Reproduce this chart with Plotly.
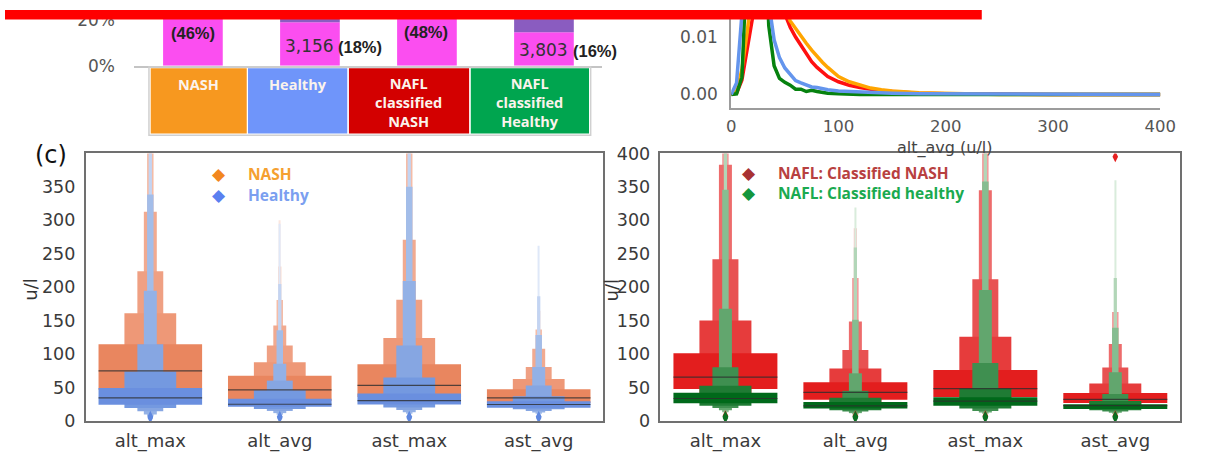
import plotly.graph_objects as go

W, H = 1212, 455
def px(x): return x / W
def py(y): return 1 - y / H

# ---------------- data: top-left stacked bars ----------------
bar_groups = ["NASH", "Healthy", "NAFL classified NASH", "NAFL classified Healthy"]
group_box_text = ["NASH", "Healthy", "NAFL<br>classified<br>NASH", "NAFL<br>classified<br>Healthy"]
group_box_colors = ["#f7981f", "#6f95fa", "#d30000", "#00a54f"]
pct_magenta = [46.0, 18.8, 48.0, 14.5]
pct_purple = [20.0, 6.0, 20.0, 10.0]
bar_counts = ["", "3,156", "", "3,803"]
bar_pcts = ["(46%)", "(18%)", "(48%)", "(16%)"]

# ---------------- data: top-right density of alt_avg ----------------
alt_grid = [0, 5, 10, 15, 20, 25, 30, 35, 40, 45, 50, 55, 60, 65, 70, 75, 80, 85, 90,
            100, 110, 120, 130, 140, 150, 175, 200, 250, 300, 350, 400]
dens_nash = [0, .0005, .0043, .0110, .0190, .0250, .0260, .0240, .0210, .0180, .0150, .0128,
             .0115, .0100, .0089, .0077, .0066, .0056, .0047, .0031, .0022, .0016, .0011,
             .0008, .0006, .0003, .0002, 0, 0, 0, 0]
dens_healthy = [0, .0020, .0140, .0300, .0380, .0380, .0300, .0160, .0095, .0064, .0046, .0034,
                .0024, .0020, .0016, .0013, .0012, .0010, .0008, .0006, .0005, .0004, .0003,
                .0002, .0002, .0001, .0001, 0, 0, 0, 0]
dens_nafl_nash = [0, .0002, .0025, .0080, .0135, .0220, .0270, .0250, .0210, .0170, .0140, .0117,
                  .0100, .0086, .0071, .0057, .0047, .0038, .0031, .0022, .0016, .0012, .0009,
                  .0006, .0005, .0002, .0001, 0, 0, 0, 0]
dens_nafl_healthy = [0, .0001, .0030, .0250, .0420, .0440, .0360, .0120, .0050, .0028, .0021, .0016,
                     .0009, .0009, .0005, .0007, .0005, .0003, .0002, .0001, 0, 0, 0,
                     0, 0, 0, 0, 0, 0, 0, 0]

# ---------------- data: boxen (letter-value) plots ----------------
box_cats = ["alt_max", "alt_avg", "ast_max", "ast_avg"]

nash_upper = [[114.7, 161, 224, 313, 480, None, None],
              [67.6, 88, 112.9, 142.9, 181, 231, 300],
              [84.8, 124, 181.5, 271, 480, None, None],
              [47.6, 62.9, 81, 108, 137, 165, None]]
nash_lower = [[47, 33, 25, 19, 14, None, None],
              [30, 24, 19, 15, 12, 10, 8],
              [36, 28, 23, 19, 16, None, None],
              [27, 23, 20, 17, 14, 12, None]]
nash_median = [75, 46.7, 53.5, 34.8]

healthy_upper = [[49.5, 74.3, 114.7, 194.8, 338.6, 480, None],
                 [33.3, 46.2, 60.5, 85.7, 135.7, 204.8, 295],
                 [41.4, 65.2, 112.9, 209.5, 350, 480, None],
                 [29.5, 37.1, 53.3, 81, 128.6, 186.7, 262]]
healthy_lower = [[24.3, 19.5, 14.8, 10, 7.6, 6, None],
                 [21.4, 18, 15.2, 11.9, 9.5, 8, 7],
                 [24.8, 20.5, 16.7, 13.3, 11, 9, None],
                 [20, 17.6, 15.2, 12.9, 11, 9.5, 8]]
healthy_median = [34.8, 25.2, 30.5, 24.8]
healthy_outliers = [[5, 7], [5, 7], [5, 7], [5, 7]]

nafl_nash_upper = [[101.4, 150.5, 242, 383, 480, None, None],
                   [58.1, 78.6, 106.2, 149, 214, 288, None],
                   [76.2, 126.2, 211.9, 345, 480, None, None],
                   [41.9, 56.2, 80, 115.2, 162.9, None, None]]
nafl_nash_lower = [[48, 35, 27, 21, 16, None, None],
                   [31.9, 24, 19, 15, 12, 10, None],
                   [36, 29, 24, 19, 15, None, None],
                   [27, 22, 19, 16, 13, None, None]]
nafl_nash_median = [65.7, 42.9, 48.6, 32.4]
nafl_nash_outliers = [[8], [8], [8], [8, 395]]

nafl_healthy_upper = [[42.4, 52.9, 80.5, 168, 345.7, 480, None],
                      [28.6, 34.8, 45.2, 71.4, 151.4, 259.5, 319],
                      [35.7, 49, 86.7, 196, 358, 480, None],
                      [25.2, 30, 40.5, 72.9, 139.5, 214, 360]]
nafl_healthy_lower = [[26.7, 22.9, 19.5, 16.2, 13.3, 11, None],
                      [19, 16.2, 14.3, 11.9, 10, 8.5, 7.5],
                      [22.9, 19, 15.2, 13, 11, 9.5, None],
                      [18, 16.2, 14.3, 12.5, 11, 9.5, 8]]
nafl_healthy_median = [33.8, 22.9, 30, 23]
nafl_healthy_outliers = [[5, 7], [5, 7], [5, 7], [5, 7]]

orange_levels = ['#e9865f', '#ee9877', '#efa083', '#f1aa90', '#f4bca7', '#f8d3c6', '#fbe6de']
blue_levels = ['#6a8fdf', '#7499e0', '#86a6e2', '#93b1e6', '#a3bde9', '#c3d4f2', '#dfe8f8']
red_levels = ['#e31e1e', '#e63c3c', '#e85252', '#ed6c6c', '#f29c9c', '#f7c6c6', '#fbe2e2']
green_levels = ['#00691a', '#1f7b34', '#3f8f50', '#62a66e', '#86bd91', '#b2d6b8', '#d9ecdc']

TICK = "DejaVu Sans"
fig = go.Figure()

# ---- top-left bars
fig.add_trace(go.Bar(x=list(range(4)), y=pct_magenta, base=[0] * 4, width=0.51,
                     marker=dict(color="#fb4ef0", line=dict(width=0)),
                     xaxis="x", yaxis="y", showlegend=False, hoverinfo="skip"))
fig.add_trace(go.Bar(x=list(range(4)), y=pct_purple, base=pct_magenta, width=0.51,
                     marker=dict(color="#8a5cc0", line=dict(width=0)),
                     xaxis="x", yaxis="y", showlegend=False, hoverinfo="skip"))

# ---- top-right density lines
for vals, col in [(dens_nafl_nash, "#ff1010"), (dens_nash, "#ffa500"),
                  (dens_nafl_healthy, "#07820f"), (dens_healthy, "#6495ed")]:
    fig.add_trace(go.Scatter(x=alt_grid, y=vals, mode="lines",
                             line=dict(color=col, width=3.5),
                             xaxis="x2", yaxis="y2", showlegend=False, hoverinfo="skip"))

# ---- boxen helper
def add_boxen(upper, lower, median, colors, xa, ya):
    nlev = len(colors)
    for k in reversed(range(nlev)):
        xs, bases, hs = [], [], []
        for i in range(len(upper)):
            u, l = upper[i][k], lower[i][k]
            if u is None or l is None:
                continue
            xs.append(i); bases.append(l); hs.append(u - l)
        if xs:
            fig.add_trace(go.Bar(x=xs, y=hs, base=bases, width=0.8 * 0.5 ** k,
                                 marker=dict(color=colors[k], line=dict(width=0)),
                                 xaxis=xa, yaxis=ya, showlegend=False, hoverinfo="skip"))
    mx, my = [], []
    for i, m in enumerate(median):
        mx += [i - 0.4, i + 0.4, None]; my += [m, m, None]
    fig.add_trace(go.Scatter(x=mx, y=my, mode="lines",
                             line=dict(color="rgba(45,45,45,0.8)", width=1.2),
                             xaxis=xa, yaxis=ya, showlegend=False, hoverinfo="skip"))

def add_outliers(outs, color, xa, ya):
    xs, ys = [], []
    for i, vals in enumerate(outs):
        for v in vals:
            xs.append(i); ys.append(v)
    fig.add_trace(go.Scatter(x=xs, y=ys, mode="markers",
                             marker=dict(symbol="diamond-tall", size=8, color=color),
                             xaxis=xa, yaxis=ya, showlegend=False, hoverinfo="skip",
                             cliponaxis=True))

add_boxen(nash_upper, nash_lower, nash_median, orange_levels, "x3", "y3")
add_boxen(healthy_upper, healthy_lower, healthy_median, blue_levels, "x3", "y3")
add_outliers(healthy_outliers, "#5f88e0", "x3", "y3")

add_outliers(nafl_nash_outliers, "#e52020", "x4", "y4")
add_boxen(nafl_nash_upper, nafl_nash_lower, nafl_nash_median, red_levels, "x4", "y4")
add_boxen(nafl_healthy_upper, nafl_healthy_lower, nafl_healthy_median, green_levels, "x4", "y4")
add_outliers(nafl_healthy_outliers, "#0a6e20", "x4", "y4")

hidden_tick = "rgba(0,0,0,0)"
box_y = [py(430), py(150)]

fig.update_layout(
    width=W, height=H, margin=dict(l=0, r=0, t=0, b=0),
    paper_bgcolor="white", plot_bgcolor="white", barmode="overlay",
    xaxis=dict(domain=[px(131.7), px(608)], range=[-0.5, 3.5], showticklabels=False,
               showgrid=False, zeroline=False, showline=True, linecolor="#c4c4c4",
               linewidth=1.5, ticks=""),
    yaxis=dict(domain=[py(58.3), 1], range=[0, 24.14], tickvals=[0, 20],
               ticktext=["0%", "20%"], ticks="outside", ticklen=15, tickcolor=hidden_tick,
               tickfont=dict(family=TICK, size=17, color="#555"),
               showgrid=False, zeroline=False, showline=False),
    xaxis2=dict(domain=[px(739), px(1175.7)], range=[0, 400], tickvals=[0, 100, 200, 300, 400],
                ticks="outside", ticklen=2, tickcolor=hidden_tick,
                tickfont=dict(family=TICK, size=16.5, color="#555"),
                showgrid=False, zeroline=False, showline=True, linecolor="#9c9c9c",
                linewidth=2, anchor="y2"),
    yaxis2=dict(domain=[py(102.7), 1], range=[-0.0024, 0.0147], tickvals=[0, 0.01],
                ticktext=["0.00", "0.01"], ticks="outside", ticklen=8, tickcolor=hidden_tick,
                tickfont=dict(family=TICK, size=17, color="#555"),
                showgrid=False, zeroline=False, showline=True, linecolor="#9c9c9c",
                linewidth=2, anchor="x2"),
    xaxis3=dict(domain=[px(82), px(609)], range=[-0.5, 3.5], tickvals=[0, 1, 2, 3],
                ticktext=box_cats, ticks="outside", ticklen=3, tickcolor=hidden_tick,
                tickfont=dict(family=TICK, size=18, color="#3a3a3a"),
                showgrid=False, zeroline=False, showline=True, mirror=True,
                linecolor="#707070", linewidth=1.5, anchor="y3"),
    yaxis3=dict(domain=box_y, range=[0, 400], tickvals=[0, 50, 100, 150, 200, 250, 300, 350],
                ticks="outside", ticklen=5, tickcolor=hidden_tick,
                tickfont=dict(family=TICK, size=17.5, color="#3a3a3a"),
                showgrid=False, zeroline=False, showline=True, mirror=True,
                linecolor="#707070", linewidth=1.5, anchor="x3"),
    xaxis4=dict(domain=[px(667), px(1196)], range=[-0.5, 3.5], tickvals=[0, 1, 2, 3],
                ticktext=box_cats, ticks="outside", ticklen=3, tickcolor=hidden_tick,
                tickfont=dict(family=TICK, size=18, color="#3a3a3a"),
                showgrid=False, zeroline=False, showline=True, mirror=True,
                linecolor="#707070", linewidth=1.5, anchor="y4"),
    yaxis4=dict(domain=box_y, range=[0, 400],
                tickvals=[0, 50, 100, 150, 200, 250, 300, 350, 400],
                ticks="outside", ticklen=5, tickcolor=hidden_tick,
                tickfont=dict(family=TICK, size=17.5, color="#3a3a3a"),
                showgrid=False, zeroline=False, showline=True, mirror=True,
                linecolor="#707070", linewidth=1.5, anchor="x4"),
)

shapes = []
# category boxes under the bar chart
box_edges = [(148.3, 246), (247.3, 348.3), (350, 472.3), (474, 594.3)]
shapes.append(dict(type="rect", xref="paper", yref="paper", x0=px(146.5), x1=px(596),
                    y0=py(131), y1=py(59.5), line=dict(color="#d0d0d0", width=1.5),
                    fillcolor="rgba(0,0,0,0)"))
for (x0, x1), col in zip(box_edges, group_box_colors):
    shapes.append(dict(type="rect", xref="paper", yref="paper", x0=px(x0), x1=px(x1),
                        y0=py(129.3), y1=py(61), line=dict(width=0), fillcolor=col))
# red banner at the top
shapes.append(dict(type="rect", xref="paper", yref="paper", x0=0, x1=px(994),
                    y0=py(10), y1=1, line=dict(width=0), fillcolor="#ff0000", layer="above"))
fig.update_layout(shapes=shapes)

ann = []
BOXFONT = "Open Sans"
text_centers = [(197, 78), (298, 78), (411, 97), (534, 97)]
for (cx, cy), t in zip(text_centers, group_box_text):
    ann.append(dict(x=px(cx), y=py(cy), xref="paper", yref="paper", text=t, showarrow=False,
                    xanchor="center", yanchor="middle",
                    font=dict(family=BOXFONT, size=14.5, color="#fbf3ec", weight="bold")))

# bar labels
pct_pos = [(191, 24), (361, 39), (428, 23), (600, 43)]
cnt_pos = [None, (310, 38), None, (548, 42)]
for i in range(4):
    ann.append(dict(x=px(pct_pos[i][0]), y=py(pct_pos[i][1]), xref="paper", yref="paper",
                    text="<b>" + bar_pcts[i] + "</b>", showarrow=False,
                    xanchor="center", yanchor="middle",
                    font=dict(family="Liberation Sans", size=16.5, color="#222")))
    if cnt_pos[i] is not None:
        ann.append(dict(x=px(cnt_pos[i][0]), y=py(cnt_pos[i][1]), xref="paper", yref="paper",
                        text=bar_counts[i], showarrow=False, xanchor="center", yanchor="middle",
                        font=dict(family=TICK, size=17, color="#333")))

# density x-axis title
ann.append(dict(x=px(957), y=py(144), xref="paper", yref="paper", text="alt_avg (u/l)",
                showarrow=False, xanchor="center", yanchor="middle", borderpad=0,
                font=dict(family=TICK, size=16, color="#444")))

# panel label and y titles
ann.append(dict(x=px(47), y=py(152), xref="paper", yref="paper", text="(c)", showarrow=False,
                xanchor="center", yanchor="middle", font=dict(family=TICK, size=24, color="#111")))
ann.append(dict(x=px(26), y=py(293), xref="paper", yref="paper", text="u/l", showarrow=False,
                textangle=-90, xanchor="center", yanchor="middle",
                font=dict(family=TICK, size=18, color="#333")))
ann.append(dict(x=px(617), y=py(293), xref="paper", yref="paper", text="u/l", showarrow=False,
                textangle=-90, xanchor="center", yanchor="middle",
                font=dict(family=TICK, size=18, color="#333")))

# legends
legend_items = [
    (218, 172, 245, "NASH", "#f2871e", "#f5a030"),
    (218, 193, 245, "Healthy", "#5a80f0", "#7b9ff0"),
    (757, 171, 785, "NAFL: Classified NASH", "#a83232", "#b84040"),
    (757, 191, 785, "NAFL: Classified healthy", "#14963c", "#1aaa50"),
]
for dx, dy, tx, label, dcol, tcol in legend_items:
    ann.append(dict(x=px(dx), y=py(dy), xref="paper", yref="paper", text="◆", showarrow=False,
                    xanchor="center", yanchor="middle",
                    font=dict(family="DejaVu Sans", size=17, color=dcol)))
    ann.append(dict(x=px(tx), y=py(dy), xref="paper", yref="paper", text="<b>" + label + "</b>",
                    showarrow=False, xanchor="left", yanchor="middle",
                    font=dict(family=BOXFONT, size=15.5, color=tcol)))

fig.update_layout(annotations=ann)
fig.write_html("out.html")
